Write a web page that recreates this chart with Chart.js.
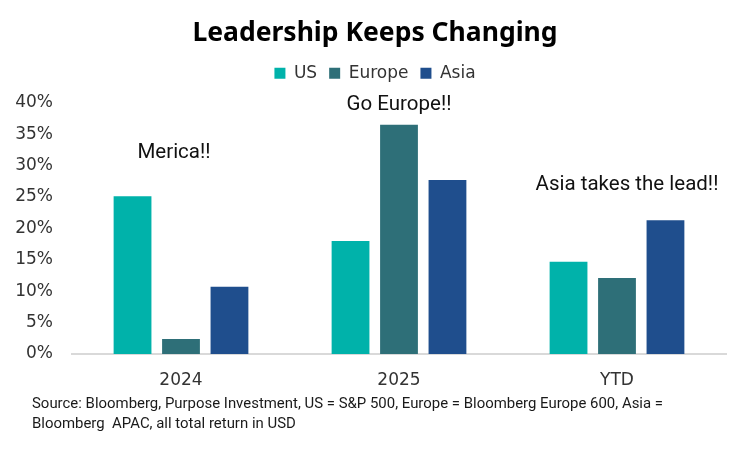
<!DOCTYPE html>
<html>
<head>
<meta charset="utf-8">
<script src="https://cdn.jsdelivr.net/npm/chart.js@4/dist/chart.umd.min.js"></script>
<style>
  html, body { margin: 0; padding: 0; background: #ffffff; }
  #wrap { width: 750px; height: 451px; position: relative; }
</style>
</head>
<body>
<div id="wrap"><canvas id="c" width="750" height="451"></canvas></div>
<script>
const categories = ["2024", "2025", "YTD"];
const seriesNames = ["US", "Europe", "Asia"];
const usValues = [25.1, 18.0, 14.7];
const europeValues = [2.4, 36.5, 12.1];
const asiaValues = [10.7, 27.7, 21.3];
const yTicks = [0, 5, 10, 15, 20, 25, 30, 35, 40];
const annotationTexts = ["Merica!!", "Go Europe!!", "Asia takes the lead!!"];
const annotationLevels = [32, 39.6, 27];
const titleText = "Leadership Keeps Changing";
const sourceLines = [
  "Source: Bloomberg, Purpose Investment, US = S&P 500, Europe = Bloomberg Europe 600, Asia =",
  "Bloomberg  APAC, all total return in USD"
];

const colors = ["#00B2AA", "#2E6F78", "#1F4E8D"];
const axisFont = 'DejaVu Sans';

const annotationPlugin = {
  id: 'annotText',
  afterDatasetsDraw(chart) {
    const ctx = chart.ctx;
    const xs = chart.scales.x, ys = chart.scales.y;
    const dx = [-7, 0, 10];
    ctx.save();
    ctx.font = '20.5px Roboto';
    ctx.fillStyle = '#111111';
    ctx.textAlign = 'center';
    ctx.textBaseline = 'middle';
    annotationTexts.forEach((t, i) => {
      ctx.fillText(t, xs.getPixelForValue(i) + dx[i], ys.getPixelForValue(annotationLevels[i]));
    });
    ctx.restore();
  }
};

const footerPlugin = {
  id: 'footer',
  afterDraw(chart) {
    const ctx = chart.ctx;
    ctx.save();
    ctx.font = '14px Roboto';
    ctx.fillStyle = '#1a1a1a';
    ctx.textBaseline = 'middle';
    const w = ctx.measureText(sourceLines[0]).width;
    const sx = 631 / w;
    ctx.translate(32, 0);
    ctx.scale(sx, 1);
    ctx.fillText(sourceLines[0], 0, 404);
    ctx.fillText(sourceLines[1], 0, 424);
    ctx.restore();
  }
};

new Chart(document.getElementById('c'), {
  type: 'bar',
  data: {
    labels: categories,
    datasets: [
      { label: seriesNames[0], data: usValues, backgroundColor: colors[0], xAxisID: 'x', yAxisID: 'y' },
      { label: seriesNames[1], data: europeValues, backgroundColor: colors[1], xAxisID: 'x', yAxisID: 'y' },
      { label: seriesNames[2], data: asiaValues, backgroundColor: colors[2], xAxisID: 'x', yAxisID: 'y' }
    ]
  },
  options: {
    responsive: false,
    animation: false,
    devicePixelRatio: 1,
    layout: { padding: 0 },
    datasets: {
      bar: { categoryPercentage: 0.667, barPercentage: 0.78, borderWidth: 0 }
    },
    plugins: {
      title: {
        display: true,
        text: titleText,
        color: '#000000',
        font: { family: 'Noto Sans', size: 26.5, weight: 'bold' },
        padding: { top: 18, bottom: 3 }
      },
      legend: {
        display: true,
        position: 'top',
        labels: {
          color: '#333333',
          font: { family: axisFont, size: 17 },
          boxWidth: 11,
          boxHeight: 11,
          padding: 12
        }
      },
      tooltip: { enabled: false }
    },
    scales: {
      x: {
        grid: { display: false, drawTicks: false },
        border: { display: true, color: '#D9D9D9', width: 2 },
        ticks: { color: '#333333', font: { family: axisFont, size: 17 }, padding: 16 },
        afterFit(scale) { scale.height = 97; }
      },
      y: {
        min: 0, max: 40,
        grid: { display: false, drawTicks: false },
        border: { display: false },
        afterBuildTicks(scale) { scale.ticks = yTicks.map(v => ({ value: v })); },
        ticks: {
          color: '#333333',
          font: { family: axisFont, size: 17 },
          padding: 19,
          callback: v => v + '%'
        },
        afterFit(scale) { scale.width = 72; }
      },
      spacer: {
        type: 'linear',
        position: 'top',
        display: true,
        min: 0, max: 1,
        grid: { display: false, drawTicks: false },
        border: { display: false },
        ticks: { display: false },
        afterFit(scale) { scale.height = 11; }
      },
      rightSpacer: {
        type: 'linear',
        position: 'right',
        display: true,
        min: 0, max: 1,
        grid: { display: false, drawTicks: false },
        border: { display: false },
        ticks: { display: false },
        afterFit(scale) { scale.width = 24; }
      }
    }
  },
  plugins: [annotationPlugin, footerPlugin]
});
</script>
</body>
</html>
